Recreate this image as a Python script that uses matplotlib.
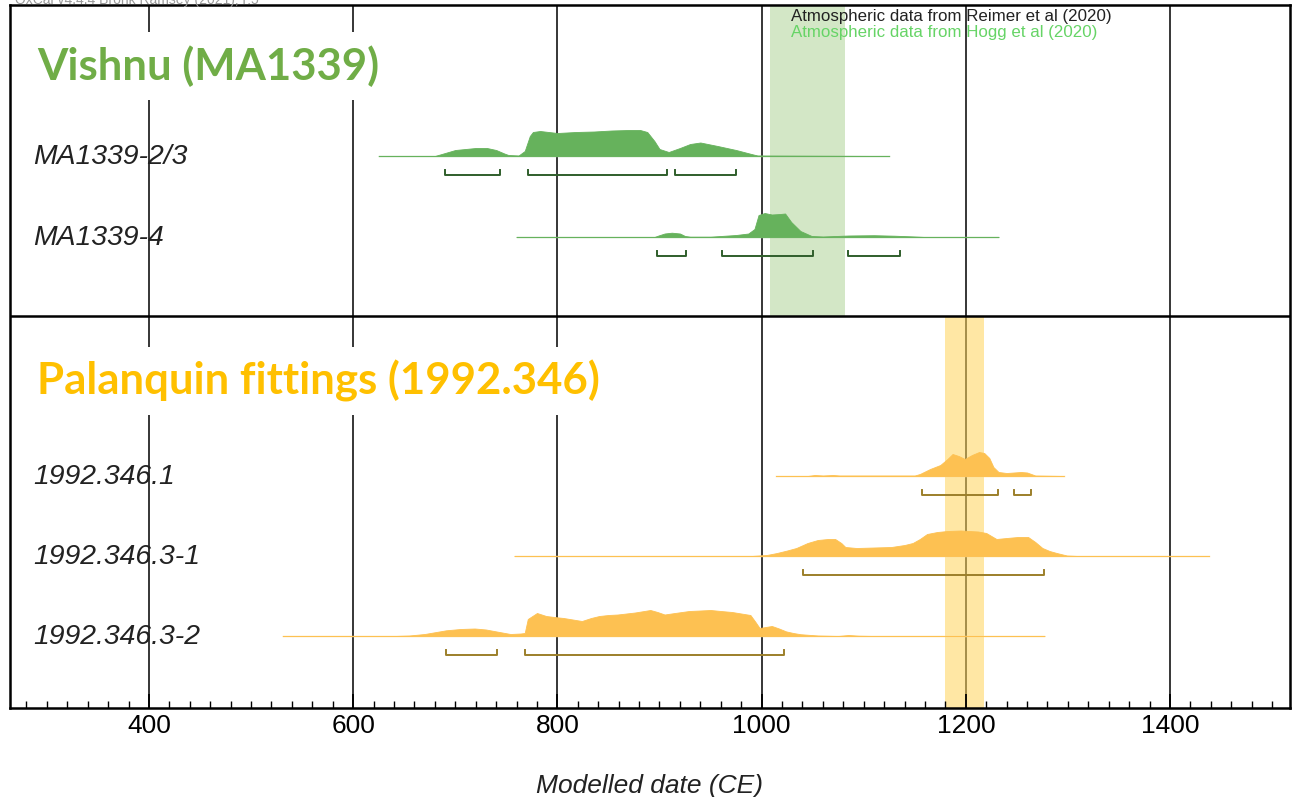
import matplotlib
matplotlib.use("Agg")
import matplotlib.pyplot as plt
from matplotlib.ticker import MultipleLocator
from matplotlib.transforms import blended_transform_factory

# sample names
labels = ["MA1339-2/3", "MA1339-4", "1992.346.1", "1992.346.3-1", "1992.346.3-2"]
groups = ["green", "green", "orange", "orange", "orange"]

# modelled date distributions (year, relative height)
yr_1 = [625, 680, 690, 700, 710, 720, 731, 740, 748, 752, 762, 768, 773, 776, 783, 800, 818, 836,
        853, 870, 881, 888, 895, 900, 909, 920, 930, 940, 957, 975, 990, 996, 1125]
h_1 = [0, 0, 3, 6, 7, 8, 8, 6, 2.5, 1, 0.5, 5, 20, 24, 25, 23, 24, 24.5,
       25.5, 26, 26, 24, 15, 7, 4, 8, 12, 13.5, 10, 6, 2, 0.5, 0]

yr_2 = [760, 895, 899, 905, 912, 920, 925, 930, 950, 960, 975, 987, 993, 997, 1003, 1010, 1018,
        1023, 1029, 1038, 1049, 1060, 1085, 1110, 1130, 1150, 1160, 1232]
h_2 = [0, 0, 1.5, 3.5, 4.3, 3.5, 1, 0.3, 0.3, 1, 2, 3.5, 8, 22, 24, 22.5, 23,
       23.5, 15, 6, 1, 0.5, 1.5, 1.8, 1.3, 0.5, 0, 0]

yr_3 = [1014, 1045, 1052, 1060, 1070, 1076, 1150, 1155, 1165, 1175, 1182, 1187, 1193, 1199, 1206,
        1213, 1218, 1223, 1227, 1232, 1240, 1247, 1254, 1260, 1268, 1296]
h_3 = [0, 0, 1, 0.5, 1, 0.5, 0.5, 2, 7, 11, 17, 22, 20, 17, 21,
       24, 23, 18, 9, 4, 3, 3.5, 4, 3.5, 0.5, 0]

yr_4 = [758, 990, 1005, 1015, 1025, 1034, 1045, 1055, 1065, 1072, 1078, 1082, 1093, 1110, 1127,
        1140, 1148, 1155, 1162, 1172, 1182, 1195, 1203, 1212, 1220, 1225, 1230, 1240, 1251, 1261,
        1268, 1275, 1282, 1289, 1299, 1310, 1438]
h_4 = [0, 0, 1, 3, 5.5, 8, 13, 16, 17, 17, 13, 9, 8, 8.5, 9,
       11, 13, 17, 22, 24, 25, 25.5, 25, 24.5, 23, 20, 17, 18, 19, 19,
       14, 8, 5, 3, 0.5, 0, 0]

yr_5 = [531, 640, 655, 670, 691, 705, 719, 730, 740, 754, 764, 768, 771, 780, 789, 797, 806, 815,
        824, 833, 841, 850, 859, 876, 891, 898, 905, 915, 929, 940, 950, 960, 971, 980, 989, 994,
        998, 1004, 1010, 1017, 1024, 1031, 1038, 1055, 1075, 1085, 1095, 1110, 1277]
h_5 = [0, 0, 0.5, 2, 5.7, 7, 7.5, 6.5, 4.6, 2, 2.5, 3, 17, 23, 20, 19, 18, 16.5,
       15, 18, 20, 21, 21.5, 23.5, 26, 24, 21.5, 23, 25, 25.5, 26, 25, 24, 22.5, 21, 14,
       8, 9, 10, 7.5, 4.6, 3, 1.8, 0.5, 0, 1, 0.3, 0, 0]

years = [yr_1, yr_2, yr_3, yr_4, yr_5]
heights = [h_1, h_2, h_3, h_4, h_5]

# highest posterior density ranges
ranges = [
    [(690, 744), (771, 907), (915, 975)],
    [(898, 926), (961, 1050), (1085, 1136)],
    [(1157, 1232), (1247, 1264)],
    [(1041, 1277)],
    [(691, 741), (768, 1022)],
]

# highlighted date windows
green_band = (1008, 1082)
orange_band = (1180, 1218)

colors = {
    "green": {"fill": "#66b25c", "line": "#9cc896", "bracket": "#2f5e2b"},
    "orange": {"fill": "#fdc152", "line": "#fbd890", "bracket": "#9c7f2a"},
}

baselines = [156, 237, 476, 556, 636]
bracket_off = 19

fig = plt.figure(figsize=(13.03, 7.97), dpi=100)
ax = fig.add_axes([10 / 1303, 89 / 797, 1280 / 1303, 703 / 797])
ax.set_xlim(263.9, 1517.5)
ax.set_ylim(708, 5)

for x in [400, 600, 800, 1000, 1200, 1400]:
    ax.axvline(x, color="black", lw=1.1, zorder=1)

ax.axhline(316, color="black", lw=1.8, zorder=3)

ax.axvspan(*green_band, ymin=(708 - 316) / 703, ymax=1, color="#a9d08e", alpha=0.5, lw=0, zorder=1.5)
ax.axvspan(*orange_band, ymin=0, ymax=(708 - 316) / 703, color="#ffd55a", alpha=0.55, lw=0, zorder=1.5)

for i in range(len(labels)):
    c = colors[groups[i]]
    b = baselines[i]
    ys = [b - h for h in heights[i]]
    ax.plot([years[i][0], years[i][-1]], [b, b], color=c["line"], lw=1.0, zorder=2)
    ax.fill_between(years[i], ys, b, color=c["fill"], lw=0.6, edgecolor=c["fill"], zorder=2)
    by = b + bracket_off
    for lo, hi in ranges[i]:
        ax.plot([lo, lo, hi, hi], [by - 5, by, by, by - 5], color=c["bracket"], lw=1.4, zorder=2)

trans = blended_transform_factory(ax.transAxes, ax.transData)
for i in range(len(labels)):
    ax.text(0.018, baselines[i] + 1, labels[i], transform=trans, fontsize=20.4, style="italic",
            family="Liberation Sans", va="center", ha="left", color="#222222", zorder=3)

box = dict(boxstyle="square,pad=0.3", facecolor="white", edgecolor="none")
ax.text(0.021, 66, "Vishnu (MA1339)", transform=trans, fontsize=31.5, fontweight="bold",
        family="Lato", color="#70ad47", va="center", bbox=box, zorder=4)
ax.text(0.021, 381, "Palanquin fittings (1992.346)", transform=trans, fontsize=31.5, fontweight="bold",
        family="Lato", color="#ffc000", va="center", bbox=box, zorder=4)

ax.text(1029, 17, "Atmospheric data from Reimer et al (2020)", fontsize=12.2,
        family="Liberation Sans", color="#222222", va="center", zorder=5)
ax.text(1029, 33, "Atmospheric data from Hogg et al (2020)", fontsize=12.2,
        family="Liberation Sans", color="#66d466", va="center", zorder=5)

fig.text(15 / 1303, 1.0, "OxCal v4.4.4 Bronk Ramsey (2021); r:5", fontsize=10,
         color="#9a9a9a", va="center", family="Liberation Sans")

ax.xaxis.set_major_locator(MultipleLocator(200))
ax.xaxis.set_minor_locator(MultipleLocator(20))
ax.tick_params(axis="x", which="major", direction="in", length=10, width=1.3, labelsize=19, pad=4)
ax.tick_params(axis="x", which="minor", direction="in", length=5, width=1.0)
for lab in ax.get_xticklabels():
    lab.set_family("Liberation Sans")
ax.set_yticks([])
for s in ax.spines.values():
    s.set_linewidth(1.8)

ax.set_xlabel("Modelled date (CE)", fontsize=19, style="italic", family="Liberation Sans",
              labelpad=26, color="#222222")

fig.savefig("out.png", dpi=100)
